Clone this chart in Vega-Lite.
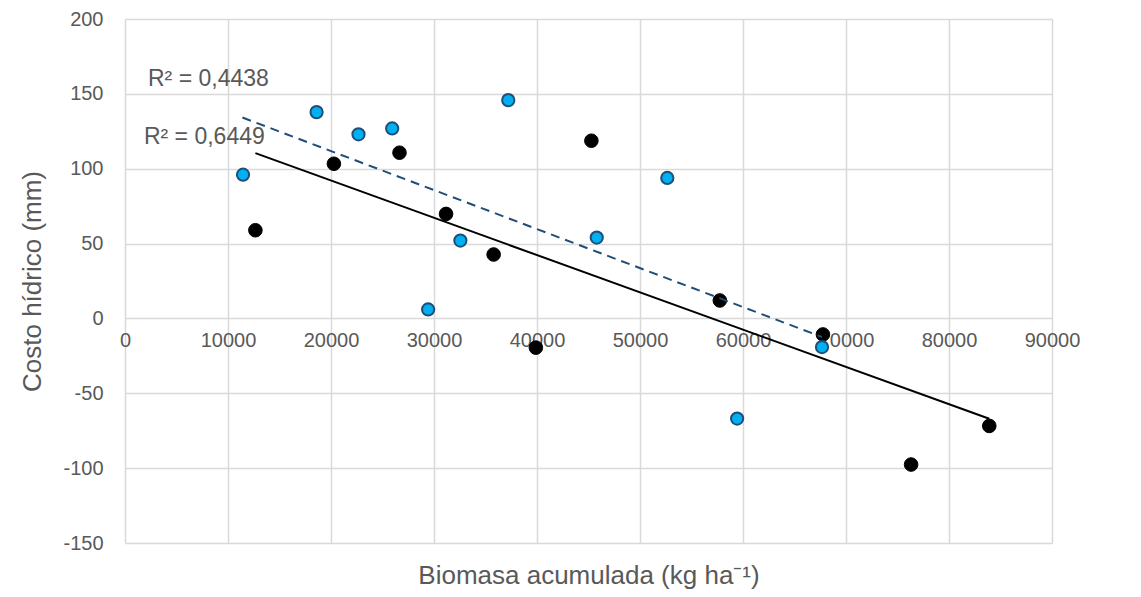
{
  "$schema": "https://vega.github.io/schema/vega-lite/v6.json",
  "width": 927,
  "height": 524,
  "autosize": "none",
  "padding": {"left": 125, "top": 19, "right": 89, "bottom": 54},
  "background": "white",
  "config": {
    "view": {"stroke": null},
    "font": "Liberation Sans",
    "axis": {
      "gridColor": "#d9d9d9",
      "gridWidth": 1.5,
      "domain": false,
      "ticks": false,
      "labelFont": "Liberation Sans",
      "labelFontSize": 20,
      "labelColor": "#595959",
      "titleFont": "Liberation Sans",
      "titleFontSize": 26,
      "titleFontWeight": "normal",
      "titleColor": "#595959"
    }
  },
  "datasets": {
    "pts": [
      {"biomasa": 12660, "costo": 58.9, "serie": "negro"},
      {"biomasa": 20280, "costo": 103.3, "serie": "negro"},
      {"biomasa": 26650, "costo": 110.7, "serie": "negro"},
      {"biomasa": 31170, "costo": 69.8, "serie": "negro"},
      {"biomasa": 35790, "costo": 42.7, "serie": "negro"},
      {"biomasa": 39890, "costo": -19.5, "serie": "negro"},
      {"biomasa": 45280, "costo": 118.7, "serie": "negro"},
      {"biomasa": 57750, "costo": 12.0, "serie": "negro"},
      {"biomasa": 67760, "costo": -10.7, "serie": "negro"},
      {"biomasa": 76320, "costo": -97.6, "serie": "negro"},
      {"biomasa": 83910, "costo": -71.8, "serie": "negro"},
      {"biomasa": 11460, "costo": 96.0, "serie": "azul"},
      {"biomasa": 18600, "costo": 137.8, "serie": "azul"},
      {"biomasa": 22670, "costo": 123.0, "serie": "azul"},
      {"biomasa": 25940, "costo": 126.9, "serie": "azul"},
      {"biomasa": 29430, "costo": 6.0, "serie": "azul"},
      {"biomasa": 32560, "costo": 52.0, "serie": "azul"},
      {"biomasa": 37210, "costo": 145.8, "serie": "azul"},
      {"biomasa": 45800, "costo": 54.0, "serie": "azul"},
      {"biomasa": 52650, "costo": 93.8, "serie": "azul"},
      {"biomasa": 59430, "costo": -66.9, "serie": "azul"},
      {"biomasa": 67670, "costo": -19.1, "serie": "azul"}
    ],
    "trend": [
      {"biomasa": 12660, "costo": 110.4, "serie": "negro"},
      {"biomasa": 83910, "costo": -67.0, "serie": "negro"},
      {"biomasa": 11400, "costo": 134.2, "serie": "azul"},
      {"biomasa": 67670, "costo": -12.4, "serie": "azul"}
    ],
    "labels": [
      {"biomasa": 2230, "costo": 160, "texto": "R² = 0,4438"},
      {"biomasa": 1840, "costo": 121.3, "texto": "R² = 0,6449"}
    ]
  },
  "encoding": {
    "x": {
      "field": "biomasa",
      "type": "quantitative",
      "scale": {"domain": [0, 90000], "nice": false, "zero": false},
      "axis": {
        "title": "Biomasa acumulada (kg ha⁻¹)",
        "values": [0, 10000, 20000, 30000, 40000, 50000, 60000, 70000, 80000, 90000],
        "labelExpr": "'' + datum.value",
        "offset": -225,
        "labelPadding": 12,
        "titleY": 257,
        "titleBaseline": "middle",
        "labelFlush": false
      }
    },
    "y": {
      "field": "costo",
      "type": "quantitative",
      "scale": {"domain": [-150, 200], "nice": false, "zero": false},
      "axis": {
        "title": "Costo hídrico (mm)",
        "values": [-150, -100, -50, 0, 50, 100, 150, 200],
        "labelExpr": "'' + datum.value",
        "labelPadding": 22,
        "titleX": -93,
        "titleY": 262,
        "titleBaseline": "middle",
        "titleAngle": -90,
        "labelFlush": false
      }
    }
  },
  "layer": [
    {
      "data": {"name": "pts"},
      "transform": [{"filter": "datum.serie === 'negro'"}],
      "mark": {"type": "point", "shape": "circle", "filled": true, "size": 185, "fill": "#000000", "stroke": "#000000", "strokeWidth": 1, "opacity": 1}
    },
    {
      "data": {"name": "pts"},
      "transform": [{"filter": "datum.serie === 'azul'"}],
      "mark": {"type": "point", "shape": "circle", "filled": true, "size": 150, "fill": "#00b0f0", "stroke": "#1f4e79", "strokeWidth": 2, "opacity": 1}
    },
    {
      "data": {"name": "trend"},
      "transform": [{"filter": "datum.serie === 'negro'"}],
      "mark": {"type": "line", "color": "#000000", "strokeWidth": 2}
    },
    {
      "data": {"name": "trend"},
      "transform": [{"filter": "datum.serie === 'azul'"}],
      "mark": {"type": "line", "color": "#1f4e79", "strokeWidth": 2, "strokeDash": [9, 6]}
    },
    {
      "data": {"name": "labels"},
      "mark": {"type": "text", "align": "left", "baseline": "middle", "fontSize": 23, "color": "#595959", "font": "Liberation Sans"},
      "encoding": {"text": {"field": "texto"}}
    }
  ]
}
